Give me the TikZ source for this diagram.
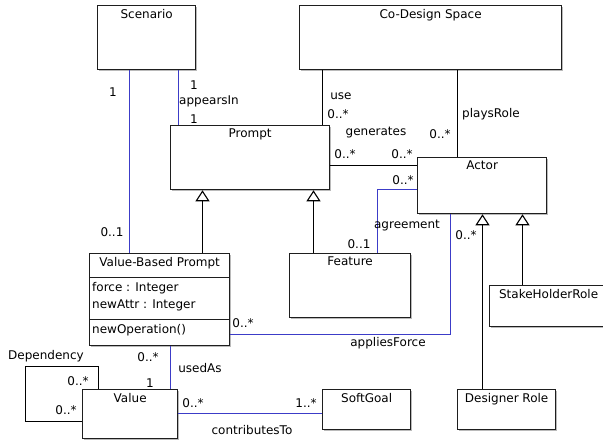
\documentclass[tikz,border=0pt]{standalone}
\usepackage{fontspec}
\setmainfont{DejaVu Sans}
\usetikzlibrary{shadows,arrows.meta}
\definecolor{assoc}{RGB}{60,60,200}
\definecolor{boxline}{RGB}{30,30,30}
\begin{document}
\begin{tikzpicture}[x=1pt,y=-1pt,
  every node/.style={font=\fontsize{12}{14}\selectfont},
  box/.style={draw=boxline,line width=1.3pt,fill=white,anchor=north west,inner sep=0pt,
    drop shadow={shadow xshift=1.6pt,shadow yshift=-1.6pt,opacity=0.45,fill=black!60}},
  ttl/.style={anchor=north,inner sep=0pt,yshift=-4pt},
  lbl/.style={inner sep=0pt},
  bl/.style={draw=assoc,line width=1.4pt},
  bk/.style={draw=black,line width=1.1pt},
  gen/.style={draw=black,line width=1.1pt,-{Triangle[open,width=14pt,length=11pt,fill=white]}}
]
\useasboundingbox (0,0) rectangle (603,443);
% boxes
\node[box,minimum width=98pt,minimum height=64pt] (sc) at (97,5) {};
\node[ttl] (sct) at (sc.north) {Scenario};
\node[box,minimum width=262pt,minimum height=64pt] (cd) at (299,5) {};
\node[ttl] (cdt) at (cd.north) {Co-Design Space};
\node[box,minimum width=159pt,minimum height=64pt] (pr) at (170,125) {};
\node[ttl] (prt) at (pr.north) {Prompt};
\node[box,minimum width=129pt,minimum height=56pt] (ac) at (417,157) {};
\node[ttl] (act) at (ac.north) {Actor};
\node[box,minimum width=121pt,minimum height=64pt] (fe) at (289,253) {};
\node[ttl] (fet) at (fe.north) {Feature};
\node[box,minimum width=140pt,minimum height=92pt] (vb) at (89,253) {};
\node[ttl] (vbt) at (vb.north) {Value-Based Prompt};
\draw[draw=boxline,line width=1.1pt] (89,277.5) -- (229,277.5);
\draw[draw=boxline,line width=1.1pt] (89,319.5) -- (229,319.5);
\node[lbl,anchor=west] (vba1) at (92,288) {force : Integer};
\node[lbl,anchor=west] (vba2) at (92,305) {newAttr : Integer};
\node[lbl,anchor=west] (vbo) at (92,330) {newOperation()};
\node[box,minimum width=95pt,minimum height=49pt] (va) at (82,389) {};
\node[ttl] (vat) at (va.north) {Value};
\node[box,minimum width=88pt,minimum height=40pt] (sg) at (322,389) {};
\node[ttl] (sgt) at (sg.north) {SoftGoal};
\node[box,minimum width=98pt,minimum height=40pt] (dr) at (457,389) {};
\node[ttl] (drt) at (dr.north) {Designer Role};
\node[box,minimum width=118pt,minimum height=41pt] (sh) at (489,285) {};
\node[ttl] (sht) at (sh.north) {StakeHolderRole};
% associations
\draw[bl] (sc.south -| 129.5,0) -- (vb.north -| 129.5,0);
\draw[bl] (sc.south -| 178.5,0) -- (pr.north -| 178.5,0);
\draw[bk] (cd.south -| 322.5,0) -- (pr.north -| 322.5,0);
\draw[bk] (cd.south -| 457.5,0) -- (ac.north -| 457.5,0);
\draw[bk] (pr.east |- 0,165.5) -- (ac.west |- 0,165.5);
\draw[bl] (ac.west |- 0,189.5) -- (377.5,189.5) -- (fe.north -| 377.5,0);
\draw[bl] (vb.east |- 0,334.5) -- (450.5,334.5) -- (ac.south -| 450.5,0);
\draw[bl] (vb.south -| 170.5,0) -- (va.north -| 170.5,0);
\draw[bl] (va.east |- 0,413.5) -- (sg.west |- 0,413.5);
\draw[bk] (va.north -| 98.5,0) -- (98.5,366.5) -- (25.5,366.5) -- (25.5,421.5) -- (va.west |- 0,421.5);
% generalizations
\draw[gen] (fe.north -| 313.5,0) -- (pr.south -| 313.5,0);
\draw[gen] (vb.north -| 202.5,0) -- (pr.south -| 202.5,0);
\draw[gen] (dr.north -| 482.5,0) -- (ac.south -| 482.5,0);
\draw[gen] (sh.north -| 522.5,0) -- (ac.south -| 522.5,0);
% labels
\node[lbl] (l1) at (113,92) {1};
\node[lbl] (l2) at (112,232) {0..1};
\node[lbl] (l3) at (194,85) {1};
\node[lbl] (l4) at (209,101) {appearsIn};
\node[lbl] (l5) at (194,119) {1};
\node[lbl] (l6) at (341,96) {use};
\node[lbl] (l7) at (338,114) {0..*};
\node[lbl] (l8) at (491,114) {playsRole};
\node[lbl] (l9) at (440,134) {0..*};
\node[lbl] (l10) at (376,133) {generates};
\node[lbl] (l11) at (345,154) {0..*};
\node[lbl] (l12) at (402,154) {0..*};
\node[lbl] (l13) at (403,180) {0..*};
\node[lbl] (l14) at (407,226) {agreement};
\node[lbl] (l15) at (359,244) {0..1};
\node[lbl] (l16) at (243,323) {0..*};
\node[lbl] (l17) at (388,343) {appliesForce};
\node[lbl] (l18) at (466,235) {0..*};
\node[lbl] (l19) at (148,357) {0..*};
\node[lbl] (l20) at (200,368) {usedAs};
\node[lbl] (l21) at (150,383) {1};
\node[lbl] (l22) at (78,381) {0..*};
\node[lbl] (l23) at (66,410) {0..*};
\node[lbl] (l24) at (46,356) {Dependency};
\node[lbl] (l25) at (193,403) {0..*};
\node[lbl] (l26) at (306,403) {1..*};
\node[lbl] (l27) at (252,430) {contributesTo};
\end{tikzpicture}
\end{document}
